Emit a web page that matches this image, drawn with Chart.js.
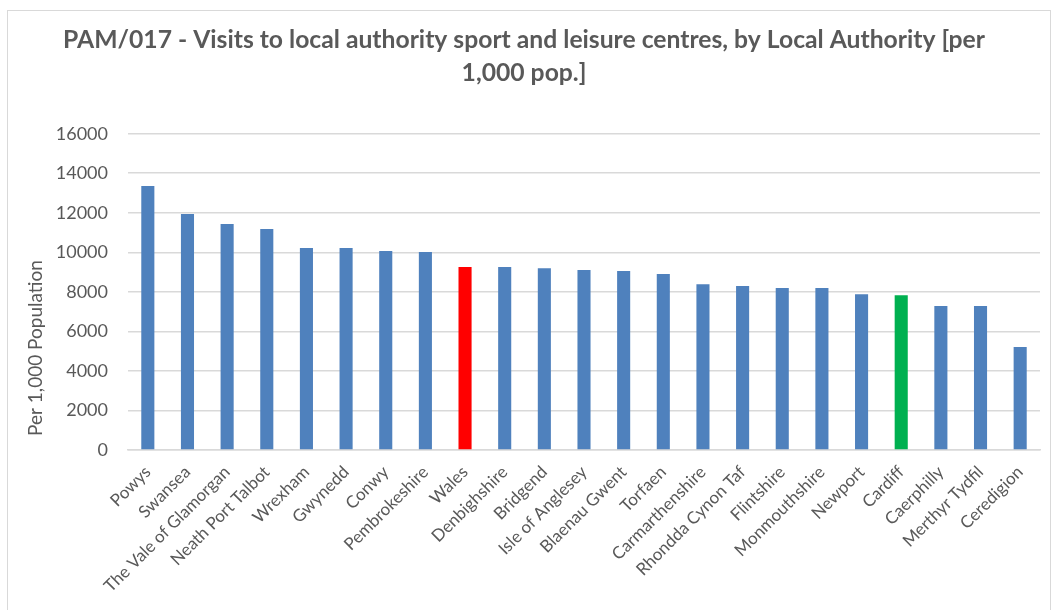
<!DOCTYPE html>
<html>
<head>
<meta charset="utf-8">
<script src="https://cdn.jsdelivr.net/npm/chart.js@4"></script>
<style>
  body { margin: 0; background: #fff; }
  #frame {
    position: absolute; left: 7px; top: 10px;
    width: 1042px; height: 640px;
    border: 1px solid #d9d9d9;
  }
  #chart { position: absolute; left: 0; top: 0; }
</style>
</head>
<body>
<div id="frame"></div>
<canvas id="chart" width="1054" height="610"></canvas>
<script>
// Local authorities, in the order shown on the chart
const categories = [
  "Powys", "Swansea", "The Vale of Glamorgan", "Neath Port Talbot", "Wrexham",
  "Gwynedd", "Conwy", "Pembrokeshire", "Wales", "Denbighshire", "Bridgend",
  "Isle of Anglesey", "Blaenau Gwent", "Torfaen", "Carmarthenshire",
  "Rhondda Cynon Taf", "Flintshire", "Monmouthshire", "Newport", "Cardiff",
  "Caerphilly", "Merthyr Tydfil", "Ceredigion",
];

// Visits per 1,000 population
const visits = [
  13360, 11940, 11430, 11180, 10220,
  10220, 10070, 10010, 9260, 9260, 9200,
  9105, 9055, 8900, 8390,
  8290, 8190, 8190, 7880, 7830,
  7280, 7280, 5210,
];

// Y axis tick values
const yTicks = [0, 2000, 4000, 6000, 8000, 10000, 12000, 14000, 16000];

// Bar colours: Wales average in red, Cardiff in green, the rest blue
const baseColour = "#4f81bd";
const highlight = { Wales: "#ff0000", Cardiff: "#00b050" };
const barColours = categories.map((c) => highlight[c] || baseColour);

const font = "Lato, 'Open Sans', sans-serif";
const grey = "#595959";

// Y axis title, drawn a little below the middle of the axis like the original
const yTitle = {
  id: "yTitle",
  afterDraw(chart) {
    const ctx = chart.ctx;
    ctx.save();
    ctx.translate(36, 348);
    ctx.rotate(-Math.PI / 2);
    ctx.fillStyle = grey;
    ctx.font = "19px " + font;
    ctx.textAlign = "center";
    ctx.textBaseline = "middle";
    ctx.fillText("Per 1,000 Population", 0, 0);
    ctx.restore();
  },
};

new Chart(document.getElementById("chart"), {
  type: "bar",
  data: {
    labels: categories,
    datasets: [
      {
        data: visits,
        backgroundColor: barColours,
        borderWidth: 0,
        barPercentage: 0.33,
        categoryPercentage: 1,
      },
    ],
  },
  plugins: [yTitle],
  options: {
    responsive: false,
    animation: false,
    layout: { padding: { left: 8, right: 14, top: 14, bottom: 0 } },
    plugins: {
      legend: { display: false },
      tooltip: { enabled: false },
      title: {
        display: true,
        text: [
          "PAM/017 - Visits to local authority sport and leisure centres, by Local Authority [per",
          "1,000 pop.]",
        ],
        color: grey,
        font: { family: font, size: 24.7, weight: "bold", lineHeight: 1.33 },
        padding: { top: 10, bottom: 44 },
      },
    },
    scales: {
      x: {
        afterFit: (scale) => {
          // labels may run past the bottom edge, as in the original
          scale.height = 160;
        },
        grid: { display: false, drawTicks: false },
        border: { color: "#d9d9d9", width: 1.5 },
        ticks: {
          color: grey,
          font: { family: font, size: 17 },
          minRotation: 45,
          maxRotation: 45,
          padding: 12,
          autoSkip: false,
        },
      },
      y: {
        min: 0,
        max: 16000,
        afterBuildTicks: (scale) => {
          scale.ticks = yTicks.map((v) => ({ value: v }));
        },
        afterFit: (scale) => {
          scale.width = 120;
        },
        grid: { color: "#d9d9d9", lineWidth: 1.5, drawTicks: false },
        border: { display: false },
        ticks: {
          color: grey,
          font: { family: font, size: 18 },
          padding: 20,
          callback: (v) => String(v),
        },
      },
    },
  },
});
</script>
</body>
</html>
